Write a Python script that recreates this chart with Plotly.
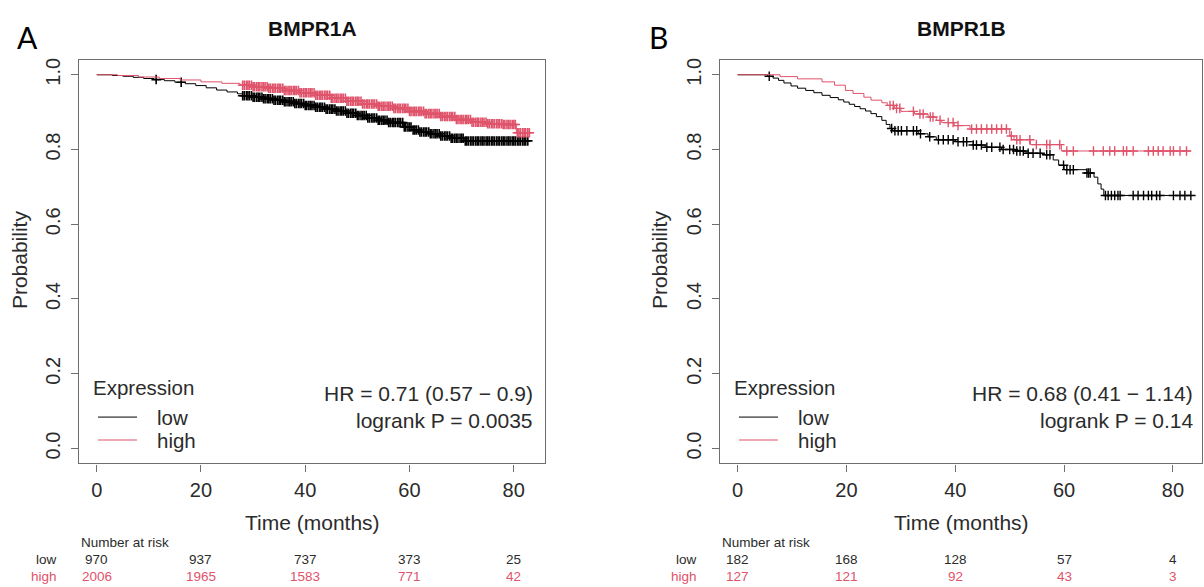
import numpy as np
import plotly.graph_objects as go

W, H = 1204, 587
FONT = "Liberation Sans, Arial, sans-serif"
RED = "#DF536B"
BLACK = "#000000"
TXT = "#2b2b2b"

# ---------------- data ----------------
x_ticks = [0, 20, 40, 60, 80]
y_ticks = [0.0, 0.2, 0.4, 0.6, 0.8, 1.0]
y_tick_text = ["0.0", "0.2", "0.4", "0.6", "0.8", "1.0"]
risk_times = [0, 20, 40, 60, 80]
genes = ["BMPR1A", "BMPR1B"]
panel_letters = ["A", "B"]
group_names = ["low", "high"]
legend_title = "Expression"

# Panel A (BMPR1A) Kaplan-Meier steps
a_low_t = [0, 3, 5, 7, 9, 11, 13, 15, 17, 19, 21, 23, 25, 27, 28, 30, 32, 34, 36, 38,
           40, 42, 44, 46, 48, 50, 52, 54, 56, 58.8, 60.5, 62, 64, 66, 68, 70.5, 83]
a_low_s = [1.0, .998, .996, .993, .990, .987, .984, .980, .976, .971, .965, .959, .954, .949,
           .944, .940, .936, .932, .928, .923, .918, .913, .908, .903, .897, .891, .884, .878,
           .872, .860, .852, .847, .842, .836, .830, .823, .823]
a_high_t = [0, 4, 8, 12, 16, 20, 24, 27.5, 30, 33, 36, 39, 42, 45, 48, 51, 54, 57, 60, 63,
            66, 69, 72, 75, 78, 80.5, 83.3]
a_high_s = [1.0, .998, .994, .990, .986, .981, .977, .972, .968, .964, .958, .952, .945, .937,
            .929, .922, .916, .910, .902, .896, .888, .880, .873, .869, .867, .845, .845]
a_low_cens = [11.4, 16.2,
              28.0, 28.3, 28.7, 29.0, 29.3, 29.7, 30.0, 30.3, 30.7, 31.0, 31.3, 31.7, 32.0,
              32.3, 32.7, 33.0, 33.3, 33.7, 34.0, 34.3, 34.7, 35.0, 35.3, 35.7, 36.0, 36.3,
              36.7, 37.0, 37.3, 37.7, 38.0, 38.3, 38.7, 39.0, 39.3, 39.7, 40.0, 40.3, 40.7,
              41.0, 41.3, 41.7, 42.0, 42.3, 42.7, 43.0, 43.3, 43.7, 44.0, 44.3, 44.7, 45.0,
              45.3, 45.7, 46.0, 46.3, 46.7, 47.0, 47.3, 47.7, 48.0, 48.3, 48.7, 49.0, 49.3,
              49.7, 50.0, 50.3, 50.7, 51.0, 51.3, 51.7, 52.0, 52.3, 52.7, 53.0, 53.3, 53.7,
              54.0, 54.3, 54.7, 55.0, 55.3, 55.7, 56.0, 56.3, 56.7, 57.0, 57.3, 57.7, 58.0,
              58.3, 58.7, 59.0, 59.3, 59.7, 60.0, 60.3, 60.7, 61.0, 61.3, 61.7, 62.0, 62.3,
              62.7, 63.0, 63.3, 63.7, 64.0, 64.3, 64.7, 65.0, 65.3, 65.7, 66.0, 66.3, 66.7,
              67.0, 67.3, 67.7, 68.0, 68.3, 68.7, 69.0, 69.3, 69.7, 70.0, 70.3, 70.7, 71.0,
              71.3, 71.7, 72.0, 72.3, 72.7, 73.0, 73.3, 73.7, 74.0, 74.3, 74.7, 75.0, 75.3,
              75.7, 76.0, 76.3, 76.7, 77.0, 77.3, 77.7, 78.0, 78.3, 78.7, 79.0, 79.3, 79.7,
              80.0, 80.3, 80.7, 81.0, 81.3, 81.7, 82.0, 82.3, 82.7]
a_high_cens = [28.0, 28.3, 28.7, 29.0, 29.3, 29.7, 30.0, 30.3, 30.7, 31.0, 31.3, 31.7, 32.0,
               32.3, 32.7, 33.0, 33.3, 33.7, 34.0, 34.3, 34.7, 35.0, 35.3, 35.7, 36.0, 36.3,
               36.7, 37.0, 37.3, 37.7, 38.0, 38.3, 38.7, 39.0, 39.3, 39.7, 40.0, 40.3, 40.7,
               41.0, 41.3, 41.7, 42.0, 42.3, 42.7, 43.0, 43.3, 43.7, 44.0, 44.3, 44.7, 45.0,
               45.3, 45.7, 46.0, 46.3, 46.7, 47.0, 47.3, 47.7, 48.0, 48.3, 48.7, 49.0, 49.3,
               49.7, 50.0, 50.3, 50.7, 51.0, 51.3, 51.7, 52.0, 52.3, 52.7, 53.0, 53.3, 53.7,
               54.0, 54.3, 54.7, 55.0, 55.3, 55.7, 56.0, 56.3, 56.7, 57.0, 57.3, 57.7, 58.0,
               58.3, 58.7, 59.0, 59.3, 59.7, 60.0, 60.3, 60.7, 61.0, 61.3, 61.7, 62.0, 62.3,
               62.7, 63.0, 63.3, 63.7, 64.0, 64.3, 64.7, 65.0, 65.3, 65.7, 66.0, 66.3, 66.7,
               67.0, 67.3, 67.7, 68.0, 68.3, 68.7, 69.0, 69.3, 69.7, 70.0, 70.3, 70.7, 71.0,
               71.3, 71.7, 72.0, 72.3, 72.7, 73.0, 73.3, 73.7, 74.0, 74.3, 74.7, 75.0, 75.3,
               75.7, 76.0, 76.3, 76.7, 77.0, 77.3, 77.7, 78.0, 78.3, 78.7, 79.0, 79.3, 79.7,
               80.0, 80.3, 80.7, 81.0, 81.3, 81.7, 82.0, 82.3, 82.7, 83.0]

# Panel B (BMPR1B) Kaplan-Meier steps
b_low_t = [0, 5.5, 6.5, 7.5, 8.5, 9.8, 11, 12.5, 14, 15.5, 17, 18.5, 19.5, 20.5, 21.5, 22.5,
           23.5, 24.5, 25.5, 26.5, 27.3, 28.0, 28.5, 33.2, 35.0, 36.5, 40.0, 43.3, 45.5, 48.5,
           51.0, 53.0, 56.0, 58.0, 59.0, 60.0, 64.2, 65.5, 66.2, 66.8, 67.3, 83.5]
b_low_s = [1.0, .996, .991, .985, .978, .970, .964, .958, .952, .945, .939, .933, .927, .921,
           .915, .909, .903, .896, .888, .878, .867, .856, .850, .842, .834, .826, .821, .812,
           .806, .800, .796, .790, .786, .772, .758, .746, .737, .726, .708, .694, .677, .677]
b_high_t = [0, 7.8, 11.0, 15.5, 17.8, 19.8, 21.2, 23.2, 24.5, 26.5, 27.5, 28.8, 30.0, 32.5,
            35.0, 36.5, 37.5, 39.8, 42.7, 50.0, 50.8, 53.8, 59.5, 83.3]
b_high_s = [1.0, .995, .989, .981, .972, .958, .950, .940, .932, .925, .918, .910, .902, .895,
            .887, .878, .872, .864, .855, .836, .826, .813, .796, .796]
b_low_cens = [5.8, 28.3, 28.9, 29.5, 30.1, 31.1, 32.3, 32.9, 33.6, 35.3, 36.9, 37.8, 38.7,
              39.6, 40.5, 41.5, 42.1, 43.3, 43.9, 44.8, 45.8, 46.7, 48.2, 48.8, 50.0, 50.7,
              51.3, 51.9, 52.5, 53.4, 54.3, 55.6, 56.8, 57.4, 59.9, 60.5, 61.1, 61.7, 64.2,
              64.5, 64.8, 67.6, 68.1, 68.7, 69.3, 69.9, 70.3, 72.7, 73.6, 74.6, 75.5, 76.1,
              77.0, 77.6, 80.1, 81.3, 82.2, 83.3]
b_high_cens = [28.0, 28.6, 29.2, 29.8, 32.3, 33.5, 34.1, 35.4, 35.9, 37.2, 38.7, 39.6, 40.5,
               43.0, 43.9, 44.8, 45.8, 46.7, 47.6, 48.5, 49.4, 50.3, 51.3, 51.9, 53.7, 54.9,
               56.8, 57.4, 59.2, 60.5, 61.7, 65.4, 67.2, 68.4, 69.3, 70.9, 71.5, 72.7, 75.5,
               76.4, 77.3, 78.2, 79.5, 80.1, 81.3, 82.5]

# Number at risk
a_risk_low = [970, 937, 737, 373, 25]
a_risk_high = [2006, 1965, 1583, 771, 42]
b_risk_low = [182, 168, 128, 57, 4]
b_risk_high = [127, 121, 92, 43, 3]

a_stats = ["HR = 0.71 (0.57 \u2212 0.9)", "logrank P = 0.0035"]
b_stats = ["HR = 0.68 (0.41 \u2212 1.14)", "logrank P = 0.14"]

# ---------------- geometry (pixels) ----------------
PLOT_TOP, PLOT_BOT = 58, 463
A_L, A_R = 79, 545
B_L, B_R = 720, 1202


def px(x):
    return x / W


def py(y):
    return 1 - y / H


def step_value(t, s, tc):
    t = np.asarray(t)
    s = np.asarray(s)
    idx = np.searchsorted(t, np.asarray(tc), side="right") - 1
    return s[idx]


panels = [
    dict(xa="x", ya="y", lt=a_low_t, ls=a_low_s, ht=a_high_t, hs=a_high_s,
         lc=a_low_cens, hc=a_high_cens, rl=a_risk_low, rh=a_risk_high, stats=a_stats,
         L=A_L, R=A_R, mw=1.6),
    dict(xa="x2", ya="y2", lt=b_low_t, ls=b_low_s, ht=b_high_t, hs=b_high_s,
         lc=b_low_cens, hc=b_high_cens, rl=b_risk_low, rh=b_risk_high, stats=b_stats,
         L=B_L, R=B_R, mw=1.4),
]

fig = go.Figure()
for p in panels:
    fig.add_trace(go.Scatter(x=p["lt"], y=p["ls"], mode="lines", name=group_names[0],
                             line=dict(color=BLACK, width=1, shape="hv"), showlegend=False,
                             xaxis=p["xa"], yaxis=p["ya"]))
    fig.add_trace(go.Scatter(x=p["lc"], y=step_value(p["lt"], p["ls"], p["lc"]), mode="markers",
                             marker=dict(symbol="cross-thin", size=6.8,
                                         line=dict(color=BLACK, width=p["mw"])),
                             showlegend=False, xaxis=p["xa"], yaxis=p["ya"]))
    fig.add_trace(go.Scatter(x=p["ht"], y=p["hs"], mode="lines", name=group_names[1],
                             line=dict(color=RED, width=1, shape="hv"), showlegend=False,
                             xaxis=p["xa"], yaxis=p["ya"]))
    fig.add_trace(go.Scatter(x=p["hc"], y=step_value(p["ht"], p["hs"], p["hc"]), mode="markers",
                             marker=dict(symbol="cross-thin", size=6.8,
                                         line=dict(color=RED, width=p["mw"])),
                             showlegend=False, xaxis=p["xa"], yaxis=p["ya"]))

axis_common = dict(showgrid=False, zeroline=False, showline=True, mirror=True,
                   linecolor="#6e6e6e", linewidth=1.2, ticks="outside", ticklen=7,
                   tickcolor="#6e6e6e", tickwidth=1,
                   tickfont=dict(family=FONT, size=20, color=TXT))

ydom = [py(PLOT_BOT), py(PLOT_TOP)]
fig.update_layout(
    width=W, height=H, margin=dict(l=0, r=0, t=0, b=0),
    paper_bgcolor="white", plot_bgcolor="white", showlegend=False,
    font=dict(family=FONT, color=TXT),
    xaxis=dict(domain=[px(A_L), px(A_R)], range=[-3.4, 86.0], tickvals=x_ticks,
               ticklabelstandoff=1, anchor="y", **axis_common),
    yaxis=dict(domain=ydom, range=[-0.04, 1.04], tickvals=y_ticks, ticktext=y_tick_text,
               tickangle=-90, ticklabelstandoff=3, anchor="x", **axis_common),
    xaxis2=dict(domain=[px(B_L), px(B_R)], range=[-3.25, 85.35], tickvals=x_ticks,
                ticklabelstandoff=1, anchor="y2", **axis_common),
    yaxis2=dict(domain=ydom, range=[-0.04, 1.04], tickvals=y_ticks, ticktext=y_tick_text,
                tickangle=-90, ticklabelstandoff=3, anchor="x2", **axis_common),
)

ann = []
shapes = []
for i, p in enumerate(panels):
    cx = (p["L"] + p["R"]) / 2
    ann.append(dict(text="<b>%s</b>" % genes[i], x=px(cx), y=py(27), xref="paper", yref="paper",
                    showarrow=False, xanchor="center", yanchor="middle",
                    font=dict(family=FONT, size=21, color="#111")))
    ann.append(dict(text=panel_letters[i], x=px([27, 658][i]), y=py(35), xref="paper",
                    yref="paper", showarrow=False, xanchor="center", yanchor="middle",
                    font=dict(family="Lato, Open Sans, sans-serif", size=30, color="#000")))
    ann.append(dict(text="Time (months)", x=px(cx), y=py(522), xref="paper", yref="paper",
                    showarrow=False, xanchor="center", yanchor="middle",
                    font=dict(family=FONT, size=21, color=TXT)))
    ann.append(dict(text="Probability", x=px([19, 659][i]), y=py(259), xref="paper",
                    yref="paper", showarrow=False, xanchor="center", yanchor="middle",
                    textangle=-90, font=dict(family=FONT, size=21, color=TXT)))
    # HR and logrank
    rx = [535, 1195][i]
    for txt, yy in zip(p["stats"], [393, 420]):
        ann.append(dict(text=txt, x=px(rx), y=py(yy), xref="paper", yref="paper",
                        showarrow=False, xanchor="right", yanchor="middle",
                        font=dict(family=FONT, size=21, color=TXT)))
    # legend (R style, inside the plot)
    L = p["L"]
    ann.append(dict(text=legend_title, x=px(L + 12), y=py(387), xref="paper", yref="paper",
                    showarrow=False, xanchor="left", yanchor="middle",
                    font=dict(family=FONT, size=20.5, color=TXT)))
    for gname, col, yy in [(group_names[0], BLACK, 416.5), (group_names[1], RED, 439.5)]:
        shapes.append(dict(type="line", xref="paper", yref="paper",
                           x0=px(L + 19), x1=px(L + 58), y0=py(yy), y1=py(yy),
                           line=dict(color=col, width=1)))
        ann.append(dict(text=gname, x=px(L + 76), y=py(yy), xref="paper", yref="paper",
                        showarrow=False, xanchor="left", yanchor="middle",
                        font=dict(family=FONT, size=20.5, color=TXT)))
    # number at risk table
    ann.append(dict(text="Number at risk", x=px(L), y=py(542), xref="paper",
                    yref="paper", showarrow=False, xanchor="left", yanchor="middle",
                    font=dict(family=FONT, size=13.5, color=TXT)))
    lab_x = [59, 699][i]
    for gname, vals, col, yy in [(group_names[0], p["rl"], TXT, 559.5),
                                 (group_names[1], p["rh"], RED, 576.5)]:
        ann.append(dict(text=gname, x=px(lab_x), y=py(yy), xref="paper", yref="paper",
                        showarrow=False, xanchor="right", yanchor="middle",
                        font=dict(family=FONT, size=13.5, color=col)))
        for tt, v in zip(risk_times, vals):
            ann.append(dict(text=str(v), x=tt, y=py(yy), xref=p["xa"], yref="paper",
                            showarrow=False, xanchor="center", yanchor="middle",
                            font=dict(family=FONT, size=13.5, color=col)))

fig.update_layout(annotations=ann, shapes=shapes)
fig.write_html("out.html", config={"displayModeBar": False},
               post_script="document.body.style.margin='0';"
                           "document.documentElement.style.overflow='hidden';")
